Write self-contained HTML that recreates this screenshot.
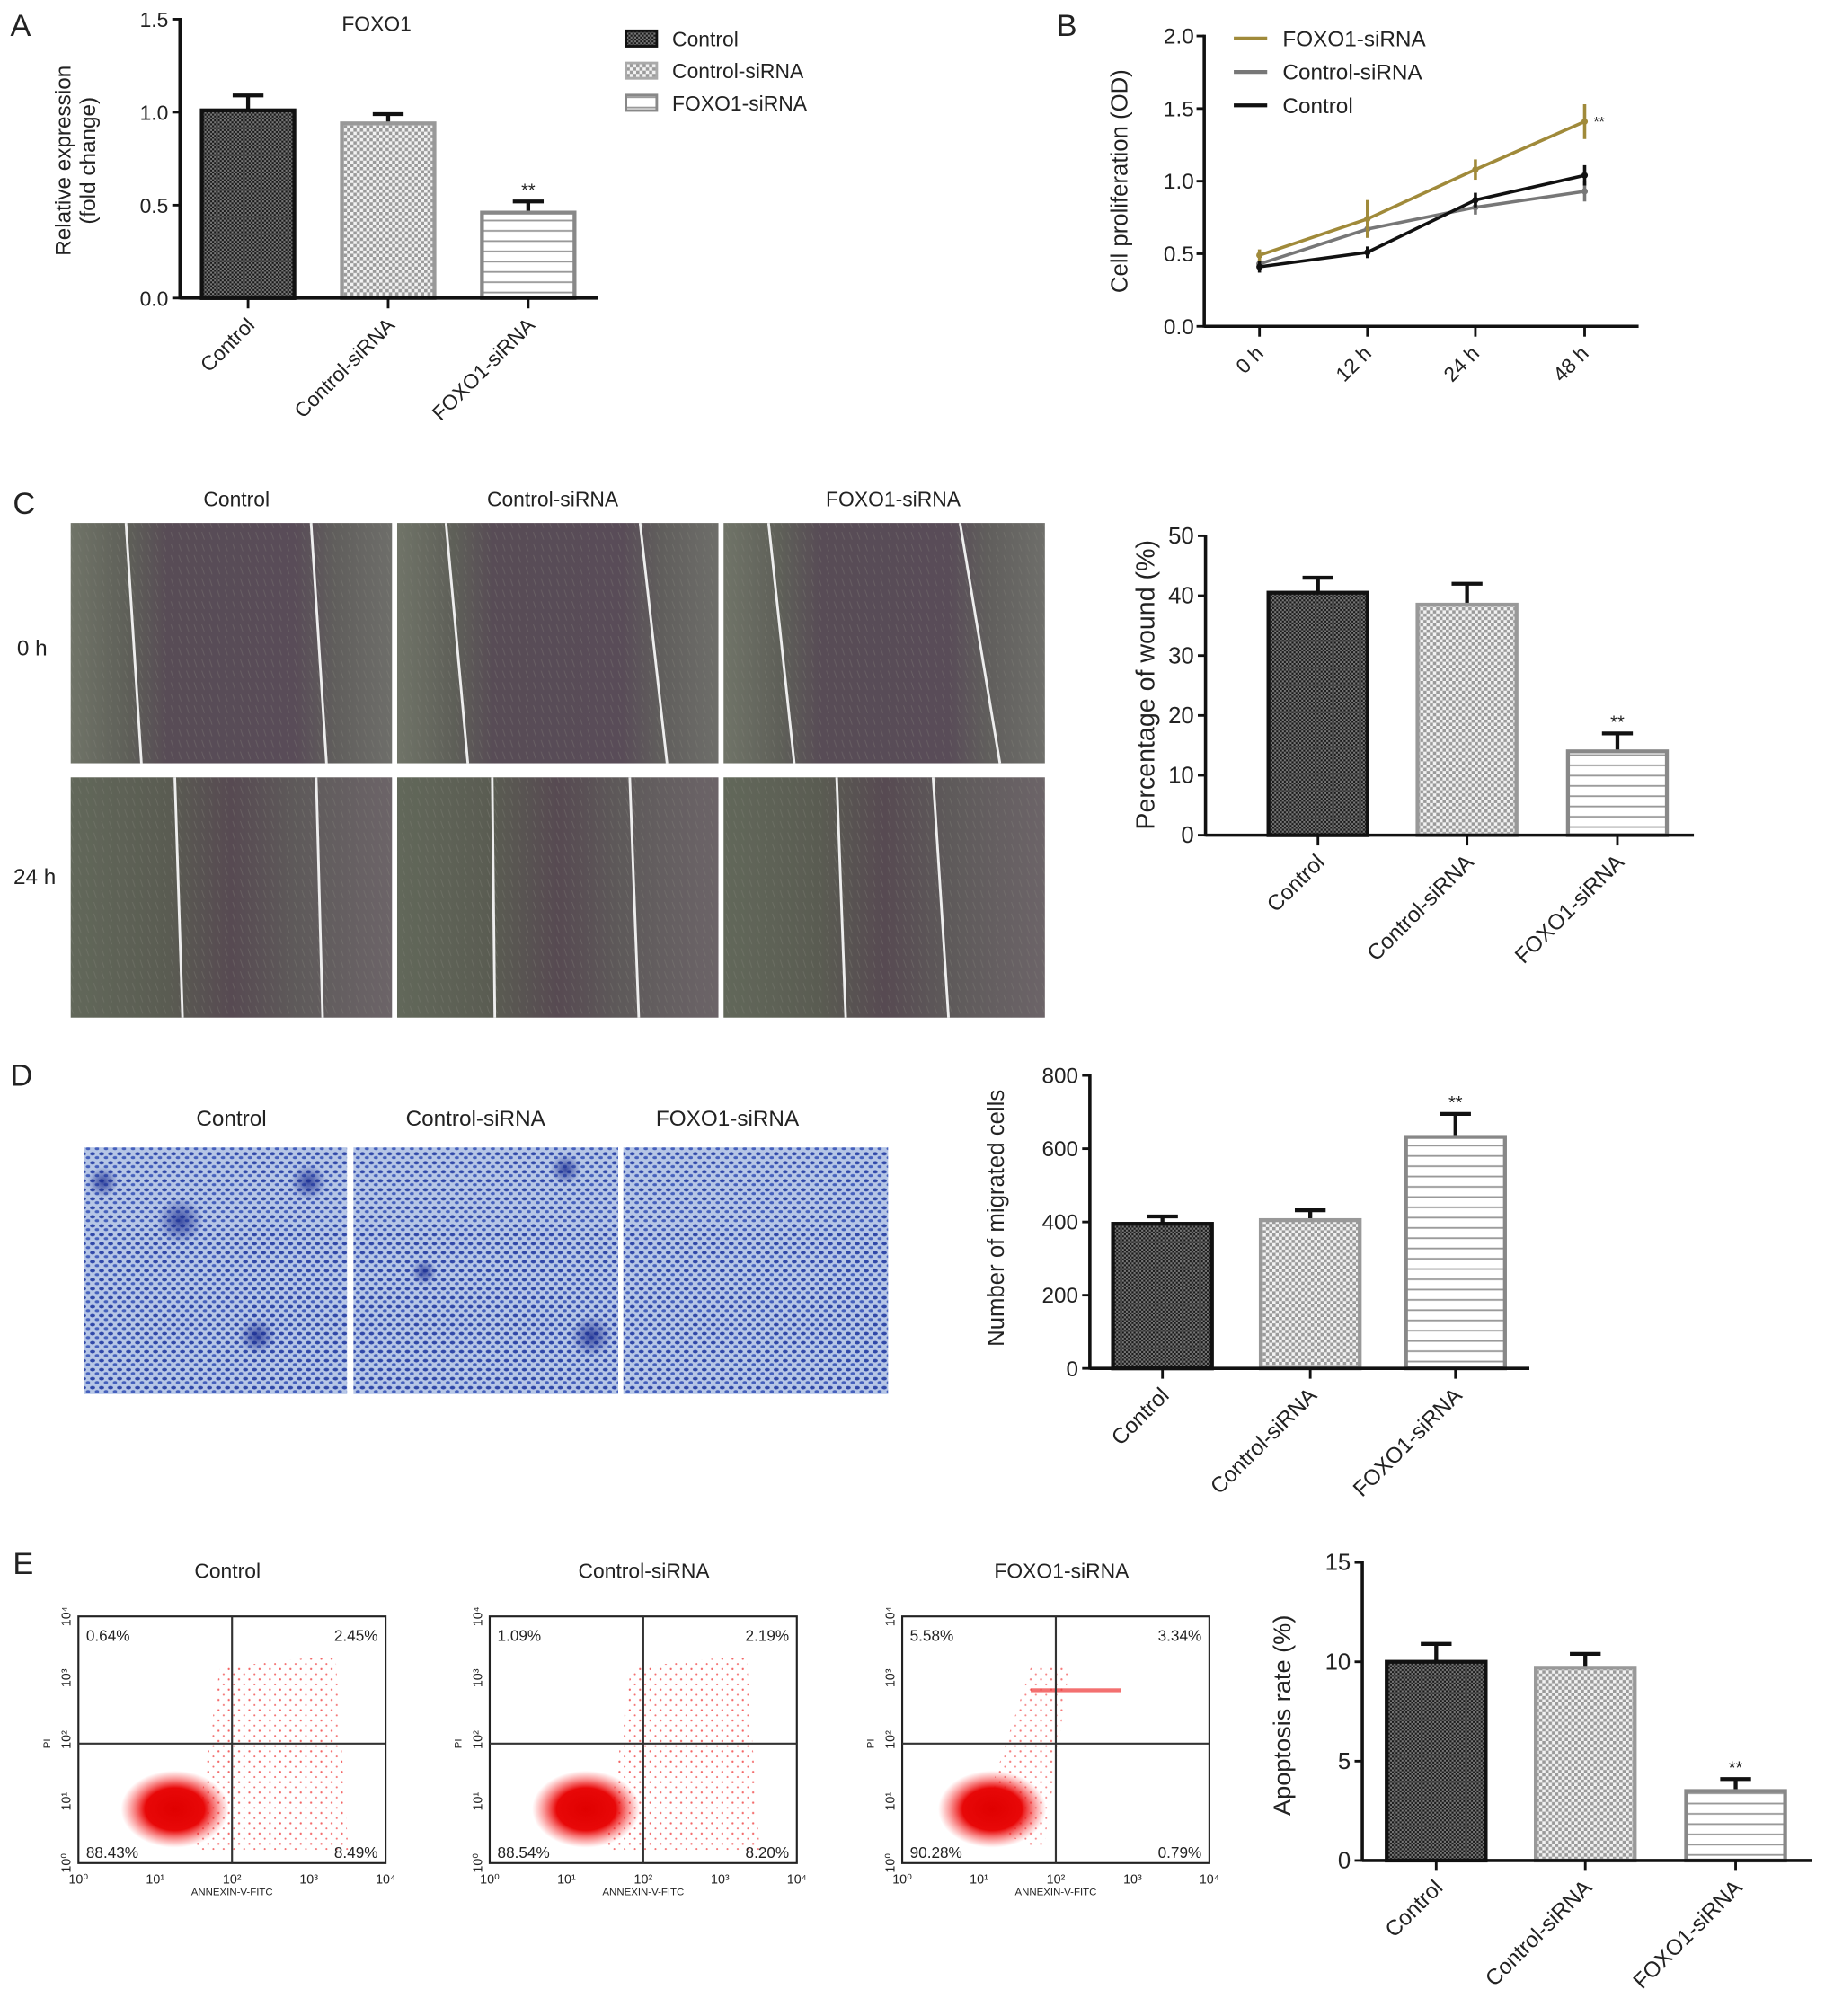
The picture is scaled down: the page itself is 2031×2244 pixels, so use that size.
<!DOCTYPE html>
<html><head><meta charset="utf-8"><style>
html,body{margin:0;padding:0;background:#fff}
svg{display:block}
text{font-family:"Liberation Sans",sans-serif;fill:#222}
</style></head><body>
<svg id="fig" width="2031" height="2244" viewBox="0 0 1420 1569" xmlns="http://www.w3.org/2000/svg">
<defs>
<pattern id="pCtl" width="3" height="3" patternUnits="userSpaceOnUse"><rect width="3" height="3" fill="#1a1a1a"/><rect width="1.5" height="1.5" fill="#777"/><rect x="1.5" y="1.5" width="1.5" height="1.5" fill="#777"/></pattern>
<pattern id="pSi" width="5" height="5" patternUnits="userSpaceOnUse"><rect width="5" height="5" fill="#f2f2f2"/><rect width="2.5" height="2.5" fill="#9a9a9a"/><rect x="2.5" y="2.5" width="2.5" height="2.5" fill="#9a9a9a"/></pattern>
<pattern id="pFx" width="8" height="8" patternUnits="userSpaceOnUse"><rect width="8" height="8" fill="#fff"/><rect y="3" width="8" height="1.3" fill="#999"/></pattern>
<linearGradient id="gW" x1="0" x2="1" y1="0" y2="0"><stop offset="0" stop-color="#707468"/><stop offset="0.18" stop-color="#5e5f58"/><stop offset="0.3" stop-color="#584c56"/><stop offset="0.7" stop-color="#594c58"/><stop offset="0.82" stop-color="#605e5c"/><stop offset="1" stop-color="#6e6e6a"/></linearGradient>
<linearGradient id="gW2" x1="0" x2="1" y1="0" y2="0"><stop offset="0" stop-color="#62685a"/><stop offset="0.3" stop-color="#5a5c52"/><stop offset="0.5" stop-color="#574a52"/><stop offset="0.7" stop-color="#5e5a5a"/><stop offset="1" stop-color="#6c6468"/></linearGradient>
<pattern id="pTex" width="6" height="9" patternUnits="userSpaceOnUse"><line x1="1" y1="0" x2="3" y2="6" stroke="#8a8a80" stroke-width="0.6" opacity="0.35"/></pattern>
<pattern id="pBlue" width="7" height="7" patternUnits="userSpaceOnUse"><rect width="7" height="7" fill="#b6c6e6"/><ellipse cx="2" cy="2" rx="2" ry="1.3" fill="#3048a8"/><ellipse cx="5.5" cy="5" rx="1.8" ry="1.2" fill="#4560bc"/></pattern>
<pattern id="pRed" width="8" height="8" patternUnits="userSpaceOnUse"><circle cx="2" cy="3" r="0.8" fill="#e22"/><circle cx="6" cy="7" r="0.7" fill="#e33"/></pattern>
<radialGradient id="gRed"><stop offset="0" stop-color="#e00000"/><stop offset="0.55" stop-color="#e80808"/><stop offset="1" stop-color="#ff4040" stop-opacity="0"/></radialGradient>
<radialGradient id="gBlot"><stop offset="0" stop-color="#1a2c90" stop-opacity="0.8"/><stop offset="1" stop-color="#1a2c90" stop-opacity="0"/></radialGradient>
</defs>
<g id="root"></g>
</svg>
<script>
// ---- data ----
const barGroups = ["Control","Control-siRNA","FOXO1-siRNA"];
const aValues = [1.01, 0.94, 0.46];
const aErrors = [0.08, 0.05, 0.06];
const aTicks = [0, 0.5, 1.0, 1.5];
const bTimes = ["0 h","12 h","24 h","48 h"];
const bFoxo = [0.49, 0.74, 1.08, 1.41];
const bFoxoErr = [0.04, 0.13, 0.07, 0.12];
const bCsi = [0.43, 0.67, 0.82, 0.93];
const bCsiErr = [0.03, 0.06, 0.05, 0.07];
const bCtl = [0.41, 0.51, 0.87, 1.04];
const bCtlErr = [0.04, 0.04, 0.05, 0.07];
const bTicks = [0, 0.5, 1.0, 1.5, 2.0];
const cValues = [40.5, 38.5, 14];
const cErrors = [2.5, 3.5, 3];
const cTicks = [0,10,20,30,40,50];
const dValues = [395, 405, 632];
const dErrors = [20, 27, 63];
const dTicks = [0,200,400,600,800];
const eValues = [10.0, 9.7, 3.5];
const eErrors = [0.9, 0.7, 0.6];
const eTicks = [0,5,10,15];
const flowPct = [["0.64%","2.45%","88.43%","8.49%"],["1.09%","2.19%","88.54%","8.20%"],["5.58%","3.34%","90.28%","0.79%"]];

const NS="http://www.w3.org/2000/svg";
const root=document.getElementById('root');
function el(tag,attrs,parent,txt){const e=document.createElementNS(NS,tag);for(const k in attrs)e.setAttribute(k,attrs[k]);if(txt!==undefined)e.textContent=txt;(parent||root).appendChild(e);return e;}
function fmt(v,d){return d?v.toFixed(1):String(v);}

function panelLabel(t,x,y){const e=el('text',{x:x,y:y,'font-size':24},root,t);

}

function barChart(o){
  const g=el('g',{});
  
  
  const y=v=>o.y0-(v-o.ticks[0])/(o.ticks[o.ticks.length-1]-o.ticks[0])*(o.y0-o.yTop);
  const fills=['url(#pCtl)','url(#pSi)','url(#pFx)'];
  const strokes=['#111','#999','#888'];
  o.values.forEach((v,i)=>{
    const x=o.bx[i];
    const top=y(v+o.errors[i]);
    const eb=el('path',{d:`M${x+o.bw/2},${y(v)} V${top} M${x+o.bw/2-12},${top} H${x+o.bw/2+12}`,stroke:'#111','stroke-width':3,fill:'none'},g);
    
    
    const r=el('rect',{x:x,y:y(v),width:o.bw,height:o.y0-y(v),fill:fills[i],stroke:strokes[i],'stroke-width':3},g);
    
    
    const cx=x+o.bw/2;
    el('line',{x1:cx,x2:cx,y1:o.y0,y2:o.y0+8,stroke:'#111','stroke-width':2},g);
    const lb=el('text',{x:0,y:0,'font-size':o.xfs||17,'text-anchor':'end',transform:`translate(${cx+6},${o.y0+22}) rotate(-45)`},g,barGroups[i]);
    
    
    if(i===2){const s=el('text',{x:cx,y:top-4,'font-size':14,'text-anchor':'middle'},g,'**');
      
      }
  });
  el('line',{x1:o.ax,x2:o.ax,y1:o.yTop-1,y2:o.y0+1,stroke:'#111','stroke-width':2.5},g);
  el('line',{x1:o.ax,x2:o.xEnd,y1:o.y0,y2:o.y0,stroke:'#111','stroke-width':2.5},g);
  o.ticks.forEach(t=>{
    el('line',{x1:o.ax-6,x2:o.ax,y1:y(t),y2:y(t),stroke:'#111','stroke-width':2},g);
    const tl=el('text',{x:o.ax-9,y:y(t)+6,'font-size':o.tfs||18,'text-anchor':'end'},g,fmt(t,o.dec));
    
    
  });
  o.ylab.forEach((l,k)=>{
    const yl=el('text',{x:0,y:0,'font-size':o.yfs||18,'text-anchor':'middle',transform:`translate(${o.ylx+k*19},${o.yly}) rotate(-90)`},g,l);
    
    
  });
}

// Panel A
panelLabel('A',8,28);
barChart({name:'chart-a-foxo1-expression',values:aValues,errors:aErrors,ticks:aTicks,dec:true,ax:140,yTop:15,y0:232,bx:[157,266,375],bw:72,xEnd:465,ylab:['Relative expression','(fold change)'],ylx:55,yly:125,tfs:16,yfs:17,xfs:16});
{const t=el('text',{x:293,y:24,'font-size':16,'text-anchor':'middle'},root,'FOXO1');

}
const legFills=['url(#pCtl)','url(#pSi)','url(#pFx)'];
barGroups.forEach((gname,i)=>{
  const lg=el('g',{});
  
  
  el('rect',{x:487,y:24+i*25,width:24,height:12,fill:legFills[i],stroke:['#111','#aaa','#888'][i],'stroke-width':2},lg);
  el('text',{x:523,y:36+i*25,'font-size':16},lg,gname);
});

// Panel B
panelLabel('B',822,28);
{
  const g=el('g',{});
  
  
  const ax=937,y0=254,yTop=28,xs=[980,1064,1148,1233];
  const y=v=>y0-v/2*(y0-yTop);
  el('line',{x1:ax,x2:ax,y1:yTop-1,y2:y0+1,stroke:'#111','stroke-width':2.5},g);
  el('line',{x1:ax,x2:1275,y1:y0,y2:y0,stroke:'#111','stroke-width':2.5},g);
  bTicks.forEach(t=>{el('line',{x1:ax-6,x2:ax,y1:y(t),y2:y(t),stroke:'#111','stroke-width':2},g);
    const tl=el('text',{x:ax-8,y:y(t)+6,'font-size':17,'text-anchor':'end'},g,t.toFixed(1));
    
    });
  bTimes.forEach((t,i)=>{el('line',{x1:xs[i],x2:xs[i],y1:y0,y2:y0+8,stroke:'#111','stroke-width':2},g);
    const tl=el('text',{x:0,y:0,'font-size':16,'text-anchor':'end',transform:`translate(${xs[i]+4},${y0+22}) rotate(-45)`},g,t);
    
    });
  const series=[[bCsi,bCsiErr,'#777','control-siRNA'],[bCtl,bCtlErr,'#111','control'],[bFoxo,bFoxoErr,'#a08a3a','foxo1-siRNA']];
  series.forEach(([vals,errs,col,nm])=>{
    const ln=el('polyline',{points:vals.map((v,i)=>xs[i]+','+y(v)).join(' '),fill:'none',stroke:col,'stroke-width':2.5},g);
    
    
    vals.forEach((v,i)=>{el('line',{x1:xs[i],x2:xs[i],y1:y(v-errs[i]),y2:y(v+errs[i]),stroke:col,'stroke-width':2.5},g);
      el('circle',{cx:xs[i],cy:y(v),r:2.5,fill:col},g);});
  });
  const st=el('text',{x:1240,y:y(bFoxo[3])+4,'font-size':11},g,'**');
  
  
  const yl=el('text',{x:0,y:0,'font-size':18,'text-anchor':'middle',transform:'translate(877,141) rotate(-90)'},g,'Cell proliferation (OD)');
  
  
  [['FOXO1-siRNA','#a08a3a'],['Control-siRNA','#777'],['Control','#111']].forEach((l,i)=>{
    const lg=el('g',{},g);
    
    
    el('line',{x1:960,x2:986,y1:30+i*26,y2:30+i*26,stroke:l[1],'stroke-width':3},lg);
    el('text',{x:998,y:36+i*26,'font-size':17},lg,l[0]);
  });
}

// Panel C photos
panelLabel('C',10,400);
const cTitleX=[184,430,695];
barGroups.forEach((t,i)=>{const e=el('text',{x:cTitleX[i],y:394,'font-size':16,'text-anchor':'middle'},root,t);

});
[['0 h',25,510],['24 h',27,688]].forEach(r=>{const e=el('text',{x:r[1],y:r[2],'font-size':17,'text-anchor':'middle'},root,r[0]);

});
const photoX=[55,309,563];
const woundLines=[[[98,110,242,254],[347,364,498,519],[598,618,747,778]],[[136,142,246,251],[383,385,490,497],[651,658,726,738]]];
[[407,187,'url(#gW)'],[605,187,'url(#gW2)']].forEach((row,r)=>{
  photoX.forEach((x,c)=>{
    const ph=el('g',{});
    
    
    el('rect',{x:x,y:row[0],width:250,height:row[1],fill:row[2]},ph);
    el('rect',{x:x,y:row[0],width:250,height:row[1],fill:'url(#pTex)'},ph);
    const L=woundLines[r][c];
    el('line',{x1:L[0],y1:row[0],x2:L[1],y2:row[0]+row[1],stroke:'#eee','stroke-width':2},ph);
    el('line',{x1:L[2],y1:row[0],x2:L[3],y2:row[0]+row[1],stroke:'#eee','stroke-width':2},ph);
  });
});
barChart({name:'chart-c-wound',values:cValues,errors:cErrors,ticks:cTicks,ax:938,yTop:417,y0:650,bx:[987,1103,1220],bw:77,xEnd:1318,ylab:['Percentage of wound (%)'],ylx:898,yly:533,tfs:18,yfs:20,xfs:17});

// Panel D
panelLabel('D',8,845);
const dTitleX=[180,370,566];
barGroups.forEach((t,i)=>{const e=el('text',{x:dTitleX[i],y:876,'font-size':17,'text-anchor':'middle'},root,t);

});
const blots=[[[140,950,18],[200,1040,14],[80,920,12],[240,920,14]],[[460,1040,16],[440,910,12],[330,990,10]],[]];
[[65,205],[275,206],[485,206]].forEach((p,i)=>{
  const g=el('g',{});
  
  
  el('rect',{x:p[0],y:893,width:p[1],height:192,fill:'url(#pBlue)'},g);
  blots[i].forEach(b=>el('circle',{cx:b[0],cy:b[1],r:b[2],fill:'url(#gBlot)'},g));
});
barChart({name:'chart-d-migration',values:dValues,errors:dErrors,ticks:dTicks,ax:848,yTop:837,y0:1065,bx:[866,981,1094],bw:77,xEnd:1190,ylab:['Number of migrated cells'],ylx:781,yly:948,tfs:17,yfs:18,xfs:17});

// Panel E
panelLabel('E',10,1225);
const eTitleX=[177,501,826];
barGroups.forEach((t,i)=>{const e=el('text',{x:eTitleX[i],y:1228,'font-size':16,'text-anchor':'middle'},root,t);

});
const flowX=[61,381,702];
flowX.forEach((x,i)=>{
  const g=el('g',{});
  
  
  const w=239,y=1258,h=192,qx=x+w/2,qy=y+99;
  if(i<2){el('path',{d:`M${x+90},${y+h-10} L${x+110},${y+40} L${x+200},${y+30} L${x+210},${y+h-10} Z`,fill:'url(#pRed)',opacity:0.7},g);}
  else{el('path',{d:`M${x+60},${y+h-30} L${x+100},${y+40} L${x+130},${y+40} L${x+110},${y+h-10} Z`,fill:'url(#pRed)',opacity:0.6},g);
    el('rect',{x:x+100,y:y+56,width:70,height:3,fill:'#e33',opacity:0.7},g);}
  el('ellipse',{cx:x+(i===2?70:75),cy:y+150,rx:42,ry:30,fill:'url(#gRed)'},g);
  el('rect',{x:x,y:y,width:w,height:h,fill:'none',stroke:'#222','stroke-width':1.5},g);
  el('line',{x1:qx,x2:qx,y1:y,y2:y+h,stroke:'#333','stroke-width':1.5},g);
  el('line',{x1:x,x2:x+w,y1:qy,y2:qy,stroke:'#333','stroke-width':1.5},g);
  const p=flowPct[i];
  el('text',{x:x+6,y:y+19,'font-size':12},g,p[0]);
  el('text',{x:x+w-6,y:y+19,'font-size':12,'text-anchor':'end'},g,p[1]);
  el('text',{x:x+6,y:y+h-4,'font-size':12},g,p[2]);
  el('text',{x:x+w-6,y:y+h-4,'font-size':12,'text-anchor':'end'},g,p[3]);
  ['10⁰','10¹','10²','10³','10⁴'].forEach((t,k)=>{
    el('text',{x:x+k*w/4,y:y+h+16,'font-size':10,'text-anchor':'middle'},g,t);
    el('text',{x:0,y:0,'font-size':10,'text-anchor':'middle',transform:`translate(${x-6},${y+h-k*h/4}) rotate(-90)`},g,t);
  });
  el('text',{x:qx,y:y+h+25,'font-size':8,'text-anchor':'middle'},g,'ANNEXIN-V-FITC');
  el('text',{x:0,y:0,'font-size':8,'text-anchor':'middle',transform:`translate(${x-22},${qy}) rotate(-90)`},g,'PI');
});
barChart({name:'chart-e-apoptosis',values:eValues,errors:eErrors,ticks:eTicks,ax:1060,yTop:1216,y0:1448,bx:[1079,1195,1312],bw:77,xEnd:1410,ylab:['Apoptosis rate (%)'],ylx:1004,yly:1335,tfs:18,yfs:19,xfs:17});
</script>
</body></html>
